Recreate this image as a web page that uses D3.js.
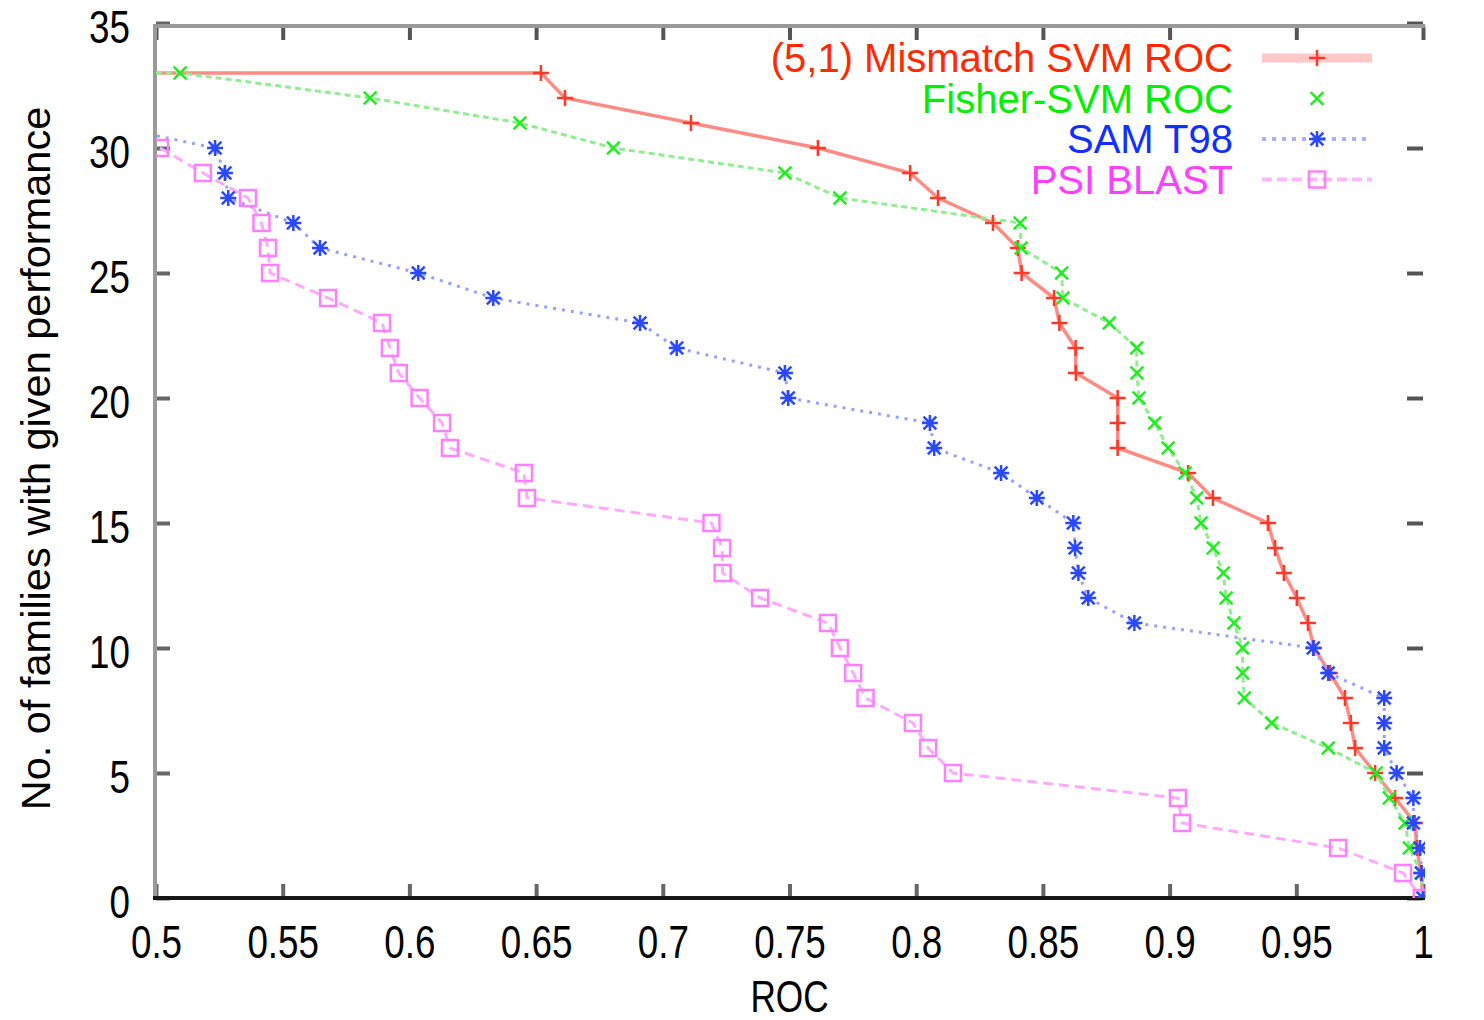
<!DOCTYPE html>
<html>
<head>
<meta charset="utf-8">
<script src="https://cdn.jsdelivr.net/npm/d3@7"></script>
<style>
  html, body { margin: 0; padding: 0; background: #fff; }
  svg { display: block; font-family: "Liberation Sans", Arial, Helvetica, sans-serif; }
</style>
</head>
<body>
<svg id="chart" width="1484" height="1020"></svg>
<script>
// ---- data: ROC score vs. number of families reaching at least that score ----
const seriesNames = ["(5,1) Mismatch SVM ROC", "Fisher-SVM ROC", "SAM T98", "PSI BLAST"];

const mismatchRoc = [0.5, 0.6519, 0.6614, 0.7111, 0.7612, 0.7976, 0.8086, 0.8303, 0.8401, 0.8416,
  0.8544, 0.8565, 0.8629, 0.8630, 0.8795, 0.8795, 0.8795, 0.9073, 0.9171, 0.9388, 0.9416, 0.9451,
  0.9502, 0.9546, 0.9570, 0.9633, 0.9692, 0.9715, 0.9732, 0.9811, 0.9890, 0.9968, 0.9976, 0.9992, 1.0];
const mismatchFamilies = [33, 33, 32, 31, 30, 29, 28, 27, 26, 25,
  24, 23, 22, 21, 20, 19, 18, 17, 16, 15, 14, 13,
  12, 11, 10, 9, 8, 7, 6, 5, 4, 3, 2, 1, 0];

const fisherRoc = [0.5, 0.5095, 0.5845, 0.6436, 0.6805, 0.7482, 0.7699, 0.8410, 0.8414, 0.8574,
  0.8579, 0.8762, 0.8870, 0.8871, 0.8879, 0.8941, 0.8994, 0.9061, 0.9107, 0.9124, 0.9172, 0.9212,
  0.9223, 0.9254, 0.9288, 0.9288, 0.9295, 0.9403, 0.9626, 0.9815, 0.9867, 0.9929, 0.9946, 0.9992, 1.0];
const fisherFamilies = [33, 33, 32, 31, 30, 29, 28, 27, 26, 25,
  24, 23, 22, 21, 20, 19, 18, 17, 16, 15, 14, 13,
  12, 11, 10, 9, 8, 7, 6, 5, 4, 3, 2, 1, 0];

const samRoc = [0.476, 0.5233, 0.5272, 0.5285, 0.5542, 0.5647, 0.6035, 0.6331, 0.6910, 0.7055,
  0.7482, 0.7495, 0.8054, 0.8071, 0.8335, 0.8476, 0.8620, 0.8627, 0.8640, 0.8679, 0.8861,
  0.9567, 0.9626, 0.9847, 0.9847, 0.9847, 0.9896, 0.9962, 0.9962, 0.9988, 0.9995, 1.0];
const samFamilies = [31, 30, 29, 28, 27, 26, 25, 24, 23, 22,
  21, 20, 19, 18, 17, 16, 15, 14, 13, 12, 11,
  10, 9, 8, 7, 6, 5, 4, 3, 2, 1, 0];

const psiRoc = [0.5016, 0.5185, 0.5363, 0.5416, 0.5442, 0.5450, 0.5679, 0.5892, 0.5923, 0.5958,
  0.6040, 0.6129, 0.6160, 0.6452, 0.6464, 0.7192, 0.7234, 0.7236, 0.7384, 0.7652, 0.7699,
  0.7751, 0.7800, 0.7987, 0.8047, 0.8145, 0.9033, 0.9049, 0.9665, 0.9921, 0.9995];
const psiFamilies = [30, 29, 28, 27, 26, 25, 24, 23, 22, 21,
  20, 19, 18, 17, 16, 15, 14, 13, 12, 11, 10,
  9, 8, 7, 6, 5, 4, 3, 2, 1, 0];

const xTicks = [0.5, 0.55, 0.6, 0.65, 0.7, 0.75, 0.8, 0.85, 0.9, 0.95, 1];
const xTickLabels = ["0.5", "0.55", "0.6", "0.65", "0.7", "0.75", "0.8", "0.85", "0.9", "0.95", "1"];
const yTicks = [0, 5, 10, 15, 20, 25, 30, 35];
const yTickLabels = ["0", "5", "10", "15", "20", "25", "30", "35"];
const xTitle = "ROC";
const yTitle = "No. of families with given performance";

// ---- styling per series ----
const styles = [
  { line: "#ff8c84", width: 3.5, dash: null,  mark: "#ff3828", shape: "plus",
    legLine: "#ffc8c8", legWidth: 9, legDash: null, text: "#ff2a00" },
  { line: "#90ee90", width: 3,   dash: "6,4", mark: "#20ee20", shape: "cross",
    legLine: "none", legWidth: 0, legDash: null, text: "#00f000" },
  { line: "#98a0ff", width: 3,   dash: "3,6", mark: "#2a48ff", shape: "star",
    legLine: "#a8b0ff", legWidth: 4, legDash: "4,6", text: "#1030ff" },
  { line: "#ffaaff", width: 3,   dash: "10,6", mark: "#ff80ff", shape: "square",
    legLine: "#ffb8ff", legWidth: 4, legDash: "10,5", text: "#ff40ff" }
];

const series = [
  d3.zip(mismatchRoc, mismatchFamilies),
  d3.zip(fisherRoc, fisherFamilies),
  d3.zip(samRoc, samFamilies),
  d3.zip(psiRoc, psiFamilies)
];

// ---- layout ----
const plot = { left: 156, right: 1423, top: 23, bottom: 898 };
const svg = d3.select("#chart");

const x = d3.scaleLinear().domain([0.5, 1]).range([plot.left, plot.right]);
const y = d3.scaleLinear().domain([0, 35]).range([plot.bottom, plot.top]);

const defs = svg.append("defs");
defs.append("clipPath").attr("id", "plotClip")
  .append("rect")
  .attr("x", plot.left).attr("y", plot.top)
  .attr("width", plot.right - plot.left + 2)
  .attr("height", plot.bottom - plot.top);

const tickFont = 46, squeeze = 0.8;

// bottom axis with inward ticks
const gx = svg.append("g").attr("transform", `translate(0,${plot.bottom})`)
  .call(d3.axisBottom(x).tickValues(xTicks)
    .tickFormat((d, i) => xTickLabels[i]).tickSize(-14).tickPadding(27));
gx.select(".domain").remove();
gx.selectAll("line").attr("stroke", "#666").attr("stroke-width", 4);
gx.selectAll("text").attr("font-size", tickFont).attr("fill", "#000")
  .attr("font-family", "Liberation Sans, Arial, sans-serif")
  .attr("transform", `scale(${squeeze},1)`);

// top mirror ticks
const gxt = svg.append("g").attr("transform", `translate(0,${plot.top + 3})`)
  .call(d3.axisTop(x).tickValues(xTicks).tickFormat("").tickSize(-14));
gxt.select(".domain").remove();
gxt.selectAll("line").attr("stroke", "#555").attr("stroke-width", 4);

// left axis with inward ticks
const gy = svg.append("g").attr("transform", `translate(${plot.left},0)`)
  .call(d3.axisLeft(y).tickValues(yTicks)
    .tickFormat((d, i) => yTickLabels[i]).tickSize(-14));
gy.select(".domain").remove();
gy.selectAll("line").attr("stroke", "#666").attr("stroke-width", 4);
gy.selectAll("text").attr("font-size", tickFont).attr("fill", "#000")
  .attr("font-family", "Liberation Sans, Arial, sans-serif")
  .attr("x", -26 / squeeze)
  .attr("dy", "0.42em")
  .attr("transform", `scale(${squeeze},1)`);

// right mirror ticks
const gyr = svg.append("g").attr("transform", `translate(${plot.right},0)`)
  .call(d3.axisRight(y).tickValues(yTicks).tickFormat("").tickSize(-16));
gyr.select(".domain").remove();
gyr.selectAll("line").attr("stroke", "#555").attr("stroke-width", 4);

// frame: left and top grey, bottom dark
svg.append("line").attr("x1", plot.left - 1).attr("x2", plot.left - 1)
  .attr("y1", plot.top + 1).attr("y2", plot.bottom + 2)
  .attr("stroke", "#9a9a9a").attr("stroke-width", 4);
svg.append("line").attr("x1", plot.left - 3).attr("x2", plot.right + 2)
  .attr("y1", plot.top + 3).attr("y2", plot.top + 3)
  .attr("stroke", "#999").attr("stroke-width", 4);
svg.append("line").attr("x1", plot.left - 3).attr("x2", plot.right + 2)
  .attr("y1", plot.bottom).attr("y2", plot.bottom)
  .attr("stroke", "#161616").attr("stroke-width", 4);

// axis titles
svg.append("text")
  .attr("transform", `translate(${(plot.left + plot.right) / 2},1012) scale(${squeeze},1)`)
  .attr("text-anchor", "middle").attr("font-size", 44).attr("fill", "#000")
  .text(xTitle);
svg.append("text")
  .attr("transform", `translate(50,${(plot.top + plot.bottom) / 2 - 2}) rotate(-90)`)
  .attr("text-anchor", "middle").attr("font-size", 41.5).attr("fill", "#000")
  .text(yTitle);

// marker shapes
function markerPath(shape, s) {
  const plus = `M${-s},0H${s}M0,${-s}V${s}`;
  const k = s * 0.8;
  const cross = `M${-k},${-k}L${k},${k}M${-k},${k}L${k},${-k}`;
  if (shape === "plus") return plus;
  if (shape === "cross") return cross;
  if (shape === "star") return plus + cross;
  return `M${-s},${-s}H${s}V${s}H${-s}Z`;
}

// curves
const line = d3.line().x(d => x(d[0])).y(d => y(d[1]));
const gPlot = svg.append("g").attr("clip-path", "url(#plotClip)");

series.forEach((data, i) => {
  const st = styles[i];
  gPlot.append("path").datum(data)
    .attr("d", line).attr("fill", "none")
    .attr("stroke", st.line).attr("stroke-width", st.width)
    .attr("stroke-dasharray", st.dash);
});
series.forEach((data, i) => {
  const st = styles[i];
  const size = 8;
  gPlot.append("g").selectAll("path")
    .data(data.filter(d => d[0] > 0.5))
    .join("path")
    .attr("transform", d => `translate(${x(d[0])},${y(d[1])})`)
    .attr("d", markerPath(st.shape, size))
    .attr("fill", "none").attr("stroke", st.mark)
    .attr("stroke-width", 2.5);
});

// legend
const legend = svg.append("g");
seriesNames.forEach((name, i) => {
  const st = styles[i];
  const base = 72 + i * 40.5;
  legend.append("text")
    .attr("x", 1233).attr("y", base)
    .attr("text-anchor", "end").attr("font-size", 40).attr("fill", st.text)
    .text(name);
  const cy = base - 14;
  if (st.legLine !== "none") {
    legend.append("line")
      .attr("x1", 1262).attr("x2", 1372).attr("y1", cy).attr("y2", cy)
      .attr("stroke", st.legLine).attr("stroke-width", st.legWidth)
      .attr("stroke-dasharray", st.legDash);
  }
  legend.append("path")
    .attr("transform", `translate(1317,${cy})`)
    .attr("d", markerPath(st.shape, 8))
    .attr("fill", "none").attr("stroke", st.mark).attr("stroke-width", 2.5);
});
</script>
</body>
</html>
